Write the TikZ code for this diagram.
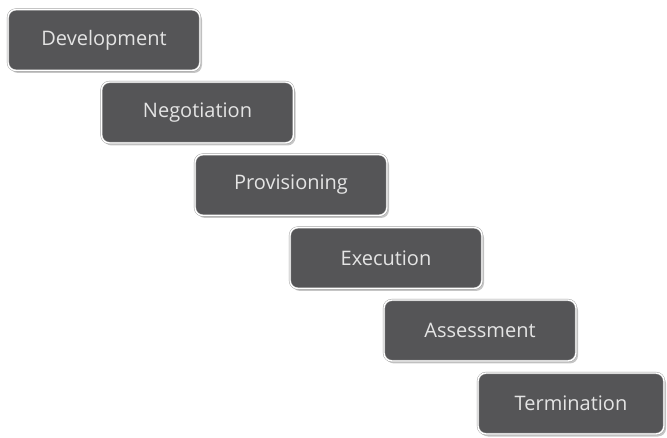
\documentclass[tikz,border=0pt]{standalone}
\usepackage{fontspec}
\setmainfont{Open Sans}
\usetikzlibrary{shadows}
\definecolor{boxfill}{HTML}{555557}
\definecolor{boxtext}{HTML}{E4E4E4}
\definecolor{boxedge}{HTML}{9A9A9A}

\begin{document}
\begin{tikzpicture}[x=1pt,y=-1pt,
  stage/.style={rectangle,rounded corners=8pt,fill=boxfill,
    draw=boxedge,double=white,double distance=1.4pt,
    minimum width=192pt,minimum height=61pt,
    text=boxtext,font=\fontsize{20}{22}\selectfont,
    drop shadow={shadow xshift=2pt,shadow yshift=-2.5pt,fill=black!45}}]
\useasboundingbox (0,0) rectangle (667,438);
\node[stage] (dev) at (104,40) {Development};
\node[stage] (neg) at (197.5,112.5) {Negotiation};
\node[stage] (prov) at (291,185) {Provisioning};
\node[stage] (exec) at (386,258) {Execution};
\node[stage] (asse) at (480,330.5) {Assessment};
\node[stage,minimum width=186pt] (term) at (571,403.5) {Termination};
\end{tikzpicture}
\end{document}
